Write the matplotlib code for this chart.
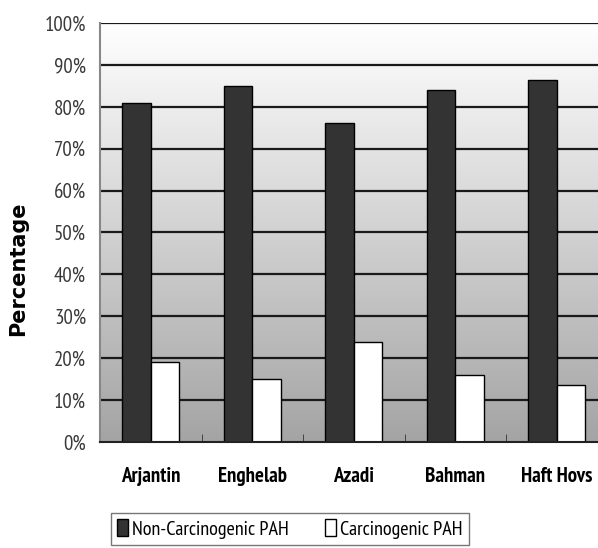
import numpy as np
import matplotlib.pyplot as plt
from matplotlib.colors import LinearSegmentedColormap

sites = ['Arjantin', 'Enghelab', 'Azadi', 'Bahman', 'Haft Hovs']
non_carcinogenic = [81.0, 85.0, 76.2, 84.0, 86.5]
carcinogenic = [19.0, 15.0, 23.8, 16.0, 13.5]
y_ticks = [0, 10, 20, 30, 40, 50, 60, 70, 80, 90, 100]

narrow = ['PT Sans Narrow', 'DejaVu Sans']

fig = plt.figure(figsize=(5.98, 5.48), dpi=100)
ax = fig.add_axes([100 / 598, 106 / 548, 507.5 / 598, 419 / 548])

# gradient background, white at top to grey at bottom
cmap = LinearSegmentedColormap.from_list('bg', ['#a4a4a4', '#ffffff'])
grad = np.linspace(0, 1, 256).reshape(-1, 1)
ax.imshow(grad, cmap=cmap, aspect='auto', origin='lower',
          extent=[0, 1, 0, 1], transform=ax.transAxes, zorder=0)

x = np.arange(len(sites))
w = 0.28
ax.bar(x - w / 2, non_carcinogenic, w, color='#333333', edgecolor='black',
       linewidth=1, label='Non-Carcinogenic PAH', zorder=3)
ax.bar(x + w / 2, carcinogenic, w, color='white', edgecolor='black',
       linewidth=1, label='Carcinogenic PAH', zorder=3)

ax.set_xlim(-0.5, len(sites) - 0.5)
ax.set_ylim(0, 100)
for t in y_ticks[1:]:
    ax.axhline(t, color='#1a1a1a', linewidth=1.6, zorder=2)

ax.set_yticks(y_ticks)
ax.set_yticklabels([f'{t}%' for t in y_ticks], family=narrow, fontsize=15, color='#3a3a3a')
ax.tick_params(axis='y', length=0, pad=10)

ax.set_xticks(x)
ax.set_xticklabels(sites, family=narrow, fontsize=15, fontweight='bold')
ax.tick_params(axis='x', length=0, pad=18)
# small ticks between the categories
ax.set_xticks(np.arange(len(sites) - 1) + 0.5, minor=True)
ax.tick_params(axis='x', which='minor', direction='in', length=6, color='#333333')

for s in ['top', 'right']:
    ax.spines[s].set_visible(False)
ax.spines['left'].set_color('#888888')
ax.spines['left'].set_linewidth(1.5)
ax.spines['bottom'].set_color('#222222')
ax.spines['bottom'].set_linewidth(1.5)
ax.spines['bottom'].set_zorder(4)

fig.text(18 / 598, 1 - 269 / 548, 'Percentage', rotation=90, ha='center', va='center',
         fontsize=15, fontweight='bold', family='DejaVu Sans')

leg = fig.legend(loc='center', bbox_to_anchor=(290 / 598, 1 - 529 / 548), ncol=2,
                 frameon=True, fancybox=False, edgecolor='#555555',
                 prop={'family': narrow, 'size': 14.5}, handlelength=0.55, handleheight=0.9,
                 handletextpad=0.2, columnspacing=1.8, borderpad=0.3, borderaxespad=0)
leg.get_frame().set_linewidth(1.0)

fig.savefig('out.png', dpi=100)
